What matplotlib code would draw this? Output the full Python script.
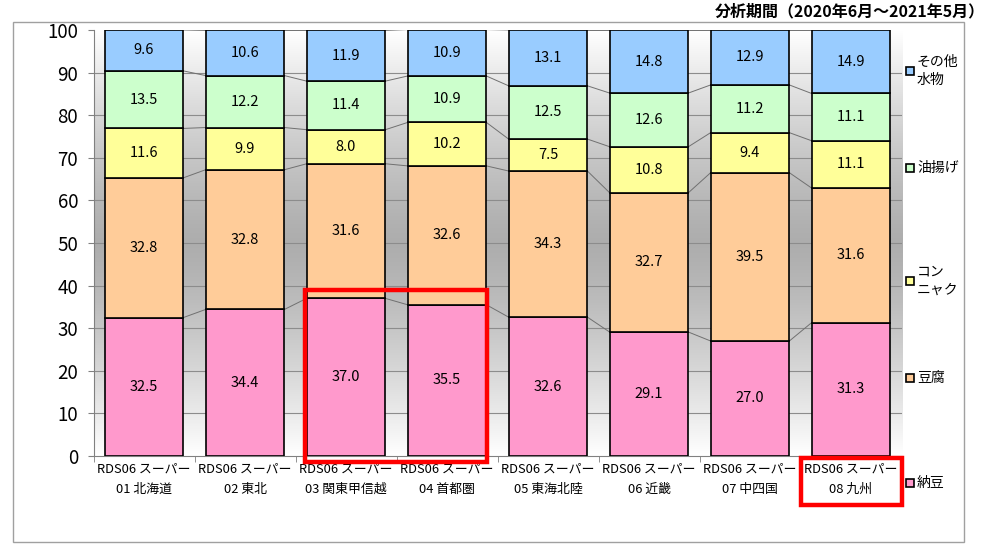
import matplotlib
matplotlib.use("Agg")
import matplotlib.pyplot as plt
import numpy as np
from matplotlib.patches import Rectangle

plt.rcParams['font.family'] = ['Noto Sans CJK JP', 'DejaVu Sans']

categories = ["RDS06 スーパー\n01 北海道", "RDS06 スーパー\n02 東北", "RDS06 スーパー\n03 関東甲信越",
              "RDS06 スーパー\n04 首都圏", "RDS06 スーパー\n05 東海北陸", "RDS06 スーパー\n06 近畿",
              "RDS06 スーパー\n07 中四国", "RDS06 スーパー\n08 九州"]
natto = [32.5, 34.4, 37.0, 35.5, 32.6, 29.1, 27.0, 31.3]
tofu = [32.8, 32.8, 31.6, 32.6, 34.3, 32.7, 39.5, 31.6]
konnyaku = [11.6, 9.9, 8.0, 10.2, 7.5, 10.8, 9.4, 11.1]
aburaage = [13.5, 12.2, 11.4, 10.9, 12.5, 12.6, 11.2, 11.1]
sonota = [9.6, 10.6, 11.9, 10.9, 13.1, 14.8, 12.9, 14.9]

series_names = ["納豆", "豆腐", "コン\nニャク", "油揚げ", "その他\n水物"]
series = [natto, tofu, konnyaku, aburaage, sonota]
colors = ["#FF99CC", "#FFCC99", "#FFFF99", "#CCFFCC", "#99CCFF"]
yticks = [0, 10, 20, 30, 40, 50, 60, 70, 80, 90, 100]
title = "分析期間（2020年6月～2021年5月）"

fig = plt.figure(figsize=(10, 5.5), dpi=100)
W, H = 1000, 550
left, right, top, bottom = 93.5, 901.5, 30, 456
ax = fig.add_axes([left / W, 1 - bottom / H, (right - left) / W, (bottom - top) / H])

# outer frame
fig.patches.append(Rectangle((13 / W, 1 - 542 / H), (964 - 13) / W, (542 - 22) / H,
                             transform=fig.transFigure, fill=False, edgecolor="#A0A0A0", lw=1))

n = len(categories)
x = np.arange(n)
ax.set_xlim(-0.5, n - 0.5)
ax.set_ylim(0, 100)

# gradient background
grad = np.abs(np.linspace(-1, 1, 256))
vals = 0.68 + 0.32 * grad ** 1.3
img = np.dstack([vals, vals, vals]).reshape(256, 1, 3)
ax.imshow(img, extent=(-0.5, n - 0.5, 0, 100), aspect='auto', zorder=0, origin='lower')
for yv in yticks[1:-1]:
    ax.axhline(yv, color="#8C8C8C", lw=0.8, zorder=1)

bw = 0.78
bottoms = np.zeros(n)
for vals_s, col in zip(series, colors):
    v = np.array(vals_s)
    ax.bar(x, v, bw, bottom=bottoms, color=col, edgecolor="black", lw=1.2, zorder=3)
    for xi, b, vv in zip(x, bottoms, v):
        ax.text(xi, b + vv / 2, f"{vv:.1f}", ha="center", va="center", fontsize=10.5, zorder=4)
    bottoms = bottoms + v
    for i in range(n - 1):
        ax.plot([x[i] + bw / 2, x[i + 1] - bw / 2], [bottoms[i], bottoms[i + 1]],
                color="#707070", lw=0.7, zorder=2)

ax.set_yticks(yticks)
ax.set_yticklabels([str(t) for t in yticks], fontsize=13.5)
ax.set_xticks(x)
ax.set_xticklabels(categories, fontsize=9.3, linespacing=1.7)
ax.tick_params(axis='x', length=0, pad=5)
ax.set_xticks(np.arange(-0.5, n, 1), minor=True)
ax.tick_params(axis='x', which='minor', length=4, color="#808080")
ax.tick_params(axis='y', length=4, color="#808080", pad=7)
for s in ["top", "right"]:
    ax.spines[s].set_visible(False)
ax.spines["left"].set_color("#808080")
ax.spines["bottom"].set_color("#808080")

# red highlight boxes
ax.add_patch(Rectangle((1.59, -1.4), 3.40 - 1.59, 39.0 + 1.4, fill=False, edgecolor="#FF0000",
                       lw=3.2, clip_on=False, zorder=6))
fig.patches.append(Rectangle((801 / W, 1 - 505 / H), (902 - 801) / W, (505 - 458) / H,
                             transform=fig.transFigure, fill=False, edgecolor="#FF0000", lw=3.2))

# legend
leg_y = [483, 378, 281, 168, 71]
for name, col, ly in zip(series_names, colors, leg_y):
    fig.patches.append(Rectangle((906 / W, 1 - (ly + 4) / H), 8 / W, 8 / H, transform=fig.transFigure,
                                 facecolor=col, edgecolor="black", lw=1.2))
    fig.text(917 / W, 1 - ly / H, name, ha="left", va="center", fontsize=10, linespacing=1.4)

fig.text(985 / W, 1 - 11 / H, title, ha="right", va="center", fontsize=11.5, fontweight="bold")

fig.savefig("out.png", dpi=100)
